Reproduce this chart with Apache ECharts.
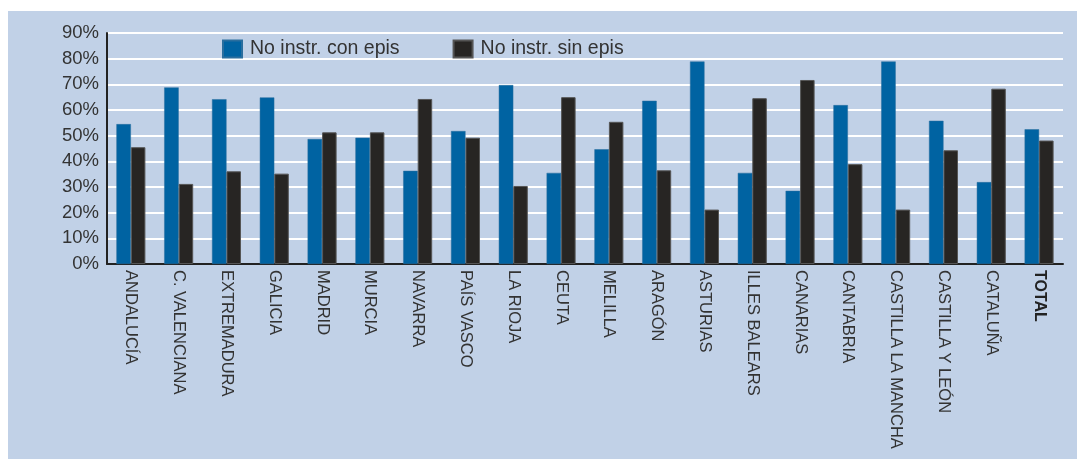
<!DOCTYPE html>
<html>
<head>
<meta charset="utf-8">
<script src="https://cdn.jsdelivr.net/npm/echarts@6/dist/echarts.min.js"></script>
<style>
html,body{margin:0;padding:0;background:#fff;}
#c{width:1085px;height:459px;}
</style>
</head>
<body>
<div id="c"></div>
<script>
const categories = ['ANDALUCÍA','C. VALENCIANA','EXTREMADURA','GALICIA','MADRID','MURCIA','NAVARRA','PAÍS VASCO','LA RIOJA','CEUTA','MELILLA','ARAGÓN','ASTURIAS','ILLES BALEARS','CANARIAS','CANTABRIA','CASTILLA LA MANCHA','CASTILLA Y LEÓN','CATALUÑA','TOTAL'];
const conEpis = [54.5, 68.8, 64.2, 64.9, 48.7, 49.2, 36.3, 51.8, 69.7, 35.5, 44.7, 63.6, 78.9, 35.5, 28.5, 61.9, 78.9, 55.8, 31.9, 52.5];
const sinEpis = [45.5, 31.2, 36.1, 35.2, 51.3, 51.3, 64.3, 49.2, 30.4, 65.0, 55.4, 36.5, 21.2, 64.6, 71.7, 38.9, 21.2, 44.3, 68.3, 48.1];
const seriesNames = ['No instr. con epis', 'No instr. sin epis'];
const yTicks = [0, 10, 20, 30, 40, 50, 60, 70, 80, 90];

const chart = echarts.init(document.getElementById('c'), null, {renderer: 'canvas'});
const font = 'Liberation Sans, Arial, Helvetica, sans-serif';
chart.setOption({
  backgroundColor: '#ffffff',
  animation: false,
  graphic: [{
    type: 'rect', z: -10, silent: true,
    shape: {x: 8, y: 11, width: 1069, height: 460},
    style: {fill: '#c1d1e7'}
  }],
  legend: {
    left: 217, top: 34,
    icon: 'rect',
    itemWidth: 19, itemHeight: 17, itemGap: 53,
    textStyle: {fontFamily: font, fontSize: 19.5, color: '#333', padding: [0, 0, 0, 3]},
    data: seriesNames
  },
  grid: {left: 107, right: 22, top: 33, bottom: 195, containLabel: false},
  xAxis: {
    type: 'category',
    data: categories,
    axisLine: {lineStyle: {color: '#222', width: 2}},
    axisTick: {show: false},
    axisLabel: {
      rotate: -90, margin: 6, interval: 0,
      fontFamily: font, fontSize: 16.5, color: '#333',
      formatter: function (v) { return v === 'TOTAL' ? '{b|' + v + '}' : v; },
      rich: {b: {fontWeight: 'bold', fontFamily: font, fontSize: 16, color: '#222'}}
    }
  },
  yAxis: {
    type: 'value', min: yTicks[0], max: yTicks[yTicks.length - 1], interval: 10,
    axisLine: {show: true, lineStyle: {color: '#222', width: 2}},
    axisTick: {show: false},
    axisLabel: {fontFamily: font, fontSize: 18.5, color: '#333', margin: 8, formatter: '{value}%'},
    splitLine: {lineStyle: {color: '#ffffff', width: 2}}
  },
  series: [
    {name: seriesNames[0], type: 'bar', data: conEpis, barWidth: 14.5, barGap: '0%',
     itemStyle: {color: '#0063a2', borderColor: '#2a6e9e', borderWidth: 0.5}},
    {name: seriesNames[1], type: 'bar', data: sinEpis, barWidth: 14.5,
     itemStyle: {color: '#272523', borderColor: '#555', borderWidth: 1}}
  ]
});
</script>
</body>
</html>
